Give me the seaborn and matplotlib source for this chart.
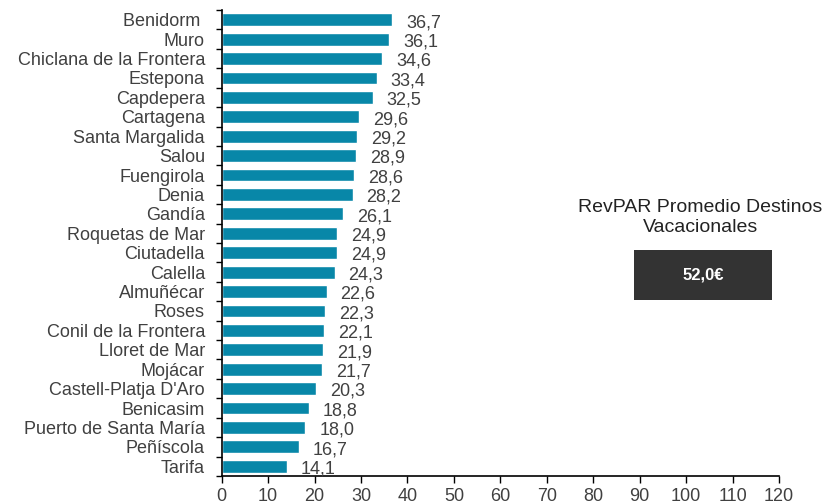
import numpy as np
import pandas as pd
import seaborn as sns
import matplotlib.pyplot as plt
from matplotlib.patches import Rectangle

destinos = [
    "Benidorm ", "Muro", "Chiclana de la Frontera", "Estepona", "Capdepera",
    "Cartagena", "Santa Margalida", "Salou", "Fuengirola", "Denia", "Gandía",
    "Roquetas de Mar", "Ciutadella", "Calella", "Almuñécar", "Roses",
    "Conil de la Frontera", "Lloret de Mar", "Mojácar", "Castell-Platja D'Aro",
    "Benicasim", "Puerto de Santa María", "Peñíscola", "Tarifa",
]
revpar = [
    36.7, 36.1, 34.6, 33.4, 32.5, 29.6, 29.2, 28.9, 28.6, 28.2, 26.1, 24.9,
    24.9, 24.3, 22.6, 22.3, 22.1, 21.9, 21.7, 20.3, 18.8, 18.0, 16.7, 14.1,
]
promedio_label = "RevPAR Promedio Destinos\nVacacionales"
promedio_valor = "52,0€"
x_ticks = list(range(0, 121, 10))

sns.set_style("white")
plt.rcParams["font.family"] = ["Liberation Sans", "DejaVu Sans"]
text_color = "#404040"

df = pd.DataFrame({"destino": destinos, "revpar": revpar})

fig = plt.figure(figsize=(8.27, 5.04), dpi=100)
ax = fig.add_axes([0.268, 0.0556, 0.674, 0.9245])

sns.barplot(data=df, x="revpar", y="destino", orient="h", color="#0887a8",
            saturation=1, width=0.66, ax=ax)

anns = ax.bar_label(ax.containers[0],
                    labels=[f"{v:.1f}".replace(".", ",") for v in revpar],
                    padding=10, fontsize=13, color=text_color)
# numbers sit a little below the bar centre in the original
for a in anns:
    a.xyann = (10, -2)

ax.set_xlim(0, 120)
ax.set_ylim(len(destinos) - 0.5, -0.5)
ax.set_xticks(x_ticks)
ax.set_xticklabels([str(t) for t in x_ticks], fontsize=13, color=text_color)
ax.set_yticks(range(len(destinos)))
ax.set_yticklabels(destinos, fontsize=13, color=text_color)
ax.set_yticks(np.arange(-0.5, len(destinos), 1), minor=True)
ax.tick_params(axis="y", which="major", left=False, length=0, pad=12)
ax.tick_params(axis="y", which="minor", left=True, length=4, width=1,
               color="black", direction="out")
ax.tick_params(axis="x", bottom=True, length=5, width=1, color="black",
               direction="out", pad=4)
ax.set_xlabel("")
ax.set_ylabel("")

for side in ["top", "right"]:
    ax.spines[side].set_visible(False)
for side in ["left", "bottom"]:
    ax.spines[side].set_color("black")
    ax.spines[side].set_linewidth(1.2)

fig.text(0.847, 0.5685, promedio_label, ha="center", va="center",
         fontsize=14, color="#222222", linespacing=1.25)
fig.add_artist(Rectangle((0.7666, 0.4048), 0.1669, 0.0992,
                         transform=fig.transFigure, facecolor="#333333",
                         edgecolor="none"))
fig.text(0.850, 0.4544, promedio_valor, ha="center", va="center",
         fontsize=12, color="white", fontweight="bold")

fig.savefig("out.png", dpi=100)
